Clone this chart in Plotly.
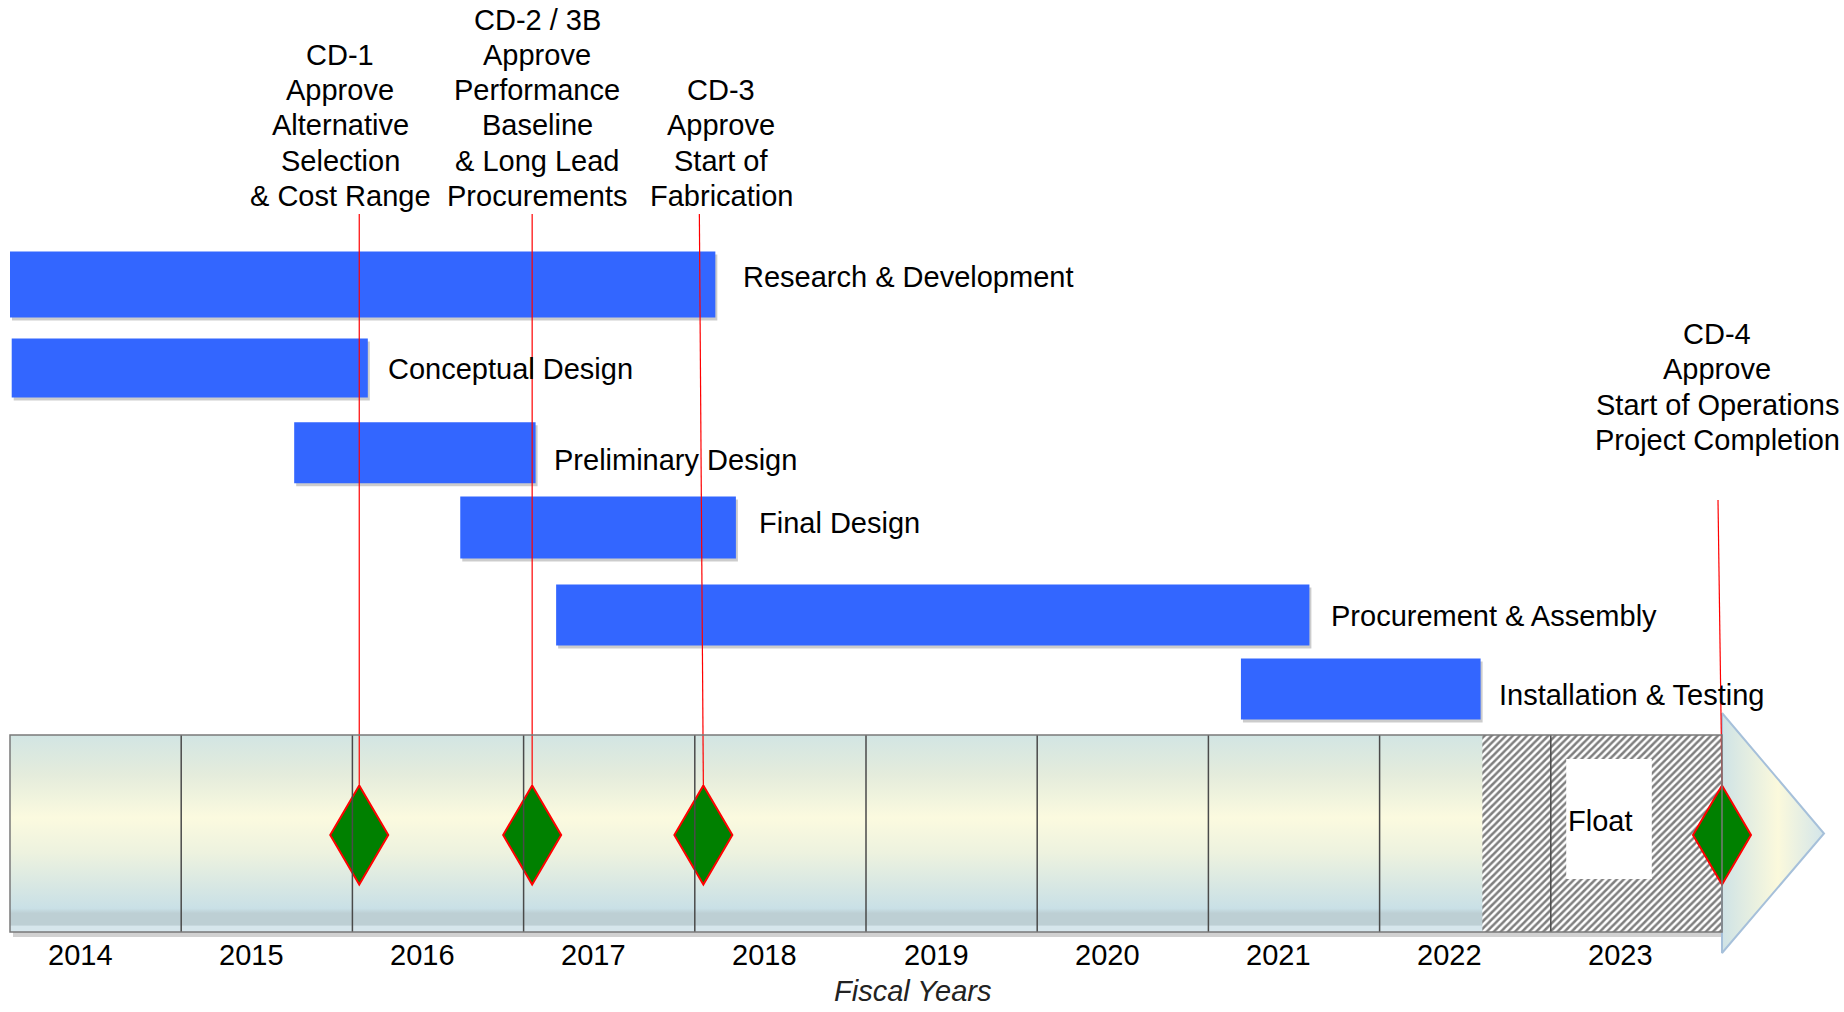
import plotly.graph_objects as go

# ---------------- data ----------------
tasks = ["Research & Development", "Conceptual Design", "Preliminary Design",
         "Final Design", "Procurement & Assembly", "Installation & Testing"]
task_start = [2014.0, 2014.01, 2015.66, 2016.63, 2017.19, 2021.19]
task_end = [2018.12, 2016.09, 2017.07, 2018.24, 2021.59, 2022.59]

milestones = ["CD-1", "CD-2 / 3B", "CD-3", "CD-4"]
milestone_date = [2016.04, 2017.05, 2018.05, 2024.0]
milestone_text = [
    ["CD-1", "Approve", "Alternative", "Selection", "& Cost Range"],
    ["CD-2 / 3B", "Approve", "Performance", "Baseline", "& Long Lead", "Procurements"],
    ["CD-3", "Approve", "Start of", "Fabrication"],
    ["CD-4", "Approve", "Start of Operations", "Project Completion"],
]

fiscal_years = [2014, 2015, 2016, 2017, 2018, 2019, 2020, 2021, 2022, 2023]
year_labels = ["2014", "2015", "2016", "2017", "2018", "2019", "2020", "2021", "2022", "2023"]

float_start = 2022.6
float_end = 2024.0
float_label = "Float"
axis_title = "Fiscal Years"

# ---------------- layout helpers (pixels) ----------------
W, H = 1844, 1012
PX_PER_YEAR = 171.2
X0_PX = 10
xmin = fiscal_years[0] - X0_PX / PX_PER_YEAR
xmax = xmin + W / PX_PER_YEAR


def px(d):
    return d / PX_PER_YEAR


FONT = "Liberation Sans, Arial, Helvetica, sans-serif"
FS = 29
BAR_COLOR = "#3366FF"

bar_center = [284.6, 368.0, 452.8, 527.5, 615.0, 689.0]
bar_height = [66, 59, 61, 62, 61, 61]
label_xshift = [26, 18, 16, 21, 20, 16]
label_yshift = [8, -1, -7, 5, -1, -6]   # plotly yshift: positive = up

BAND_TOP, BAND_BOT = 735, 932
band_x0 = fiscal_years[0]
band_x1 = fiscal_years[-1] + 1

fig = go.Figure()

# band shadow
fig.add_shape(type="rect", x0=band_x0 + px(3), x1=band_x1, y0=BAND_BOT, y1=BAND_BOT + 5,
              fillcolor="rgba(0,0,0,0.18)", line=dict(width=0), layer="below")

# timeline band with vertical gradient (0 = bottom of band on the reversed axis)
band_scale_top_down = [
    [0.0, "#d2e5e3"], [0.2, "#e4ecdc"], [0.42, "#fbfadf"], [0.6, "#edf2df"],
    [0.88, "#c9e0e6"], [0.905, "#bdcfd4"], [0.965, "#bdcfd4"], [0.97, "#d6e6ec"], [1.0, "#d6e6ec"],
]
band_scale = sorted([[round(1 - p, 4), c] for p, c in band_scale_top_down])
fig.add_trace(go.Scatter(
    x=[band_x0, band_x1, band_x1, band_x0, band_x0],
    y=[BAND_TOP, BAND_TOP, BAND_BOT, BAND_BOT, BAND_TOP],
    fill="toself", mode="lines", line=dict(width=0),
    fillgradient=dict(type="vertical", colorscale=band_scale),
    hoverinfo="skip", showlegend=False))

# float hatched region
fig.add_trace(go.Scatter(
    x=[float_start, float_end, float_end, float_start, float_start],
    y=[BAND_TOP, BAND_TOP, BAND_BOT, BAND_BOT, BAND_TOP],
    fill="toself", mode="lines", line=dict(width=0), fillcolor="white",
    fillpattern=dict(shape="/", fgcolor="black", bgcolor="white", size=5, solidity=0.5),
    hoverinfo="skip", showlegend=False))

# white label box inside float
fig.add_shape(type="rect", x0=2023.09, x1=2023.59, y0=759, y1=879,
              fillcolor="white", line=dict(width=0))
fig.add_annotation(x=2023.09, y=821, text=float_label, showarrow=False,
                   xanchor="left", yanchor="middle", xshift=0,
                   font=dict(family=FONT, size=FS, color="black"))

# year dividers and outline
for yr in fiscal_years[1:]:
    fig.add_shape(type="line", x0=yr, x1=yr, y0=BAND_TOP, y1=BAND_BOT,
                  line=dict(color="#4a4a4a", width=1.5))
fig.add_shape(type="rect", x0=band_x0, x1=band_x1, y0=BAND_TOP, y1=BAND_BOT,
              line=dict(color="#7a7a7a", width=1.5))

# arrow head
tip = band_x1 + px(102)
fig.add_trace(go.Scatter(
    x=[band_x1, tip, band_x1, band_x1],
    y=[713, (BAND_TOP + BAND_BOT) / 2, 953, 713],
    fill="toself", mode="lines", line=dict(color="#a6c0da", width=2),
    fillgradient=dict(type="horizontal",
                      colorscale=[[0, "#cfe3e6"], [0.55, "#fbf9dc"], [1, "#d3e5ea"]]),
    hoverinfo="skip", showlegend=False))

# task bars (shadow + bar)
durations = [e - s for s, e in zip(task_start, task_end)]
fig.add_trace(go.Bar(
    orientation="h", y=[c + 3 for c in bar_center], x=durations,
    base=[s + px(2) for s in task_start], width=bar_height,
    marker=dict(color="rgba(0,0,0,0.2)", line=dict(width=0)),
    hoverinfo="skip", showlegend=False))
fig.add_trace(go.Bar(
    orientation="h", y=bar_center, x=durations, base=task_start, width=bar_height,
    marker=dict(color=BAR_COLOR, line=dict(width=0)),
    name="Tasks", hovertext=tasks, hoverinfo="text", textposition="none",
    showlegend=False))

for name, end, c, xs, ys in zip(tasks, task_end, bar_center, label_xshift, label_yshift):
    fig.add_annotation(x=end, y=c, text=name, showarrow=False, xanchor="left",
                       yanchor="middle", xshift=xs, yshift=ys,
                       font=dict(family=FONT, size=FS, color="black"))

# milestones: red leader lines, diamonds, labels
line_top = [214, 214, 214, 500]
line_top_dx = [0, 0, -4, -4]
label_bottom = [196, 196, 196, 440]
label_dx = [-19, 5, 18, -5]
LINE_SP = 35.3
D_TOP, D_MID, D_BOT = 785.5, 835, 884.5
HW = px(29)

lx, ly = [], []
for m, t, tdx in zip(milestone_date, line_top, line_top_dx):
    lx += [m + px(tdx), m, None]
    ly += [t, D_TOP, None]
fig.add_trace(go.Scatter(x=lx, y=ly, mode="lines", line=dict(color="red", width=1.2),
                         hoverinfo="skip", showlegend=False))

for m in milestone_date:
    fig.add_trace(go.Scatter(
        x=[m, m + HW, m, m - HW, m], y=[D_TOP, D_MID, D_BOT, D_MID, D_TOP],
        fill="toself", fillcolor="#008000", mode="lines",
        line=dict(color="red", width=2), hoverinfo="skip", showlegend=False))

for m, lines, bot, dx in zip(milestone_date, milestone_text, label_bottom, label_dx):
    n = len(lines)
    for i, s in enumerate(lines):
        fig.add_annotation(x=m, y=bot - (n - 1 - i) * LINE_SP, text=s, showarrow=False,
                           xanchor="center", yanchor="middle", xshift=dx,
                           font=dict(family=FONT, size=FS, color="black"))

# year labels
for yr, lab in zip(fiscal_years, year_labels):
    fig.add_annotation(x=yr + 0.41, y=955, text=lab, showarrow=False,
                       xanchor="center", yanchor="middle",
                       font=dict(family=FONT, size=FS, color="black"))

fig.add_annotation(x=2019.27, y=H - 4, text="<i>" + axis_title + "</i>", showarrow=False,
                   xanchor="center", yanchor="bottom", borderpad=0,
                   font=dict(family=FONT, size=FS, color="#222222"))

fig.update_layout(
    width=W, height=H, margin=dict(l=0, r=0, t=0, b=0),
    paper_bgcolor="white", plot_bgcolor="white",
    barmode="overlay", showlegend=False,
    xaxis=dict(range=[xmin, xmax], visible=False, fixedrange=True),
    yaxis=dict(range=[H, 0], visible=False, fixedrange=True),
)

fig.write_html("out.html", config={"displayModeBar": False},
               post_script="document.body.style.margin='0';document.body.style.overflow='hidden';")
